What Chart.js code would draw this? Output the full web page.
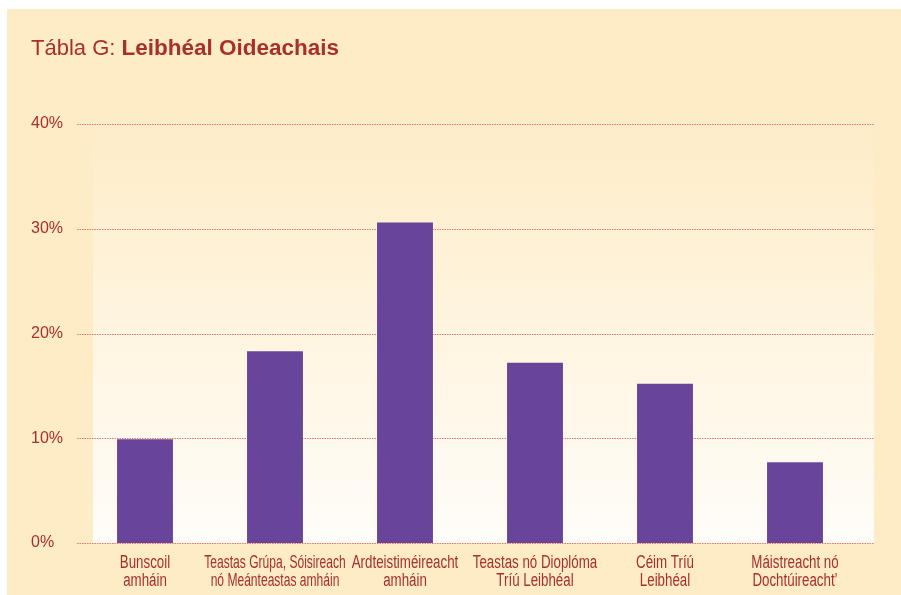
<!DOCTYPE html>
<html>
<head>
<meta charset="utf-8">
<script src="https://cdn.jsdelivr.net/npm/chart.js@4"></script>
<style>
  html, body { margin: 0; padding: 0; background: #fff; }
  canvas { display: block; }
</style>
</head>
<body>
<canvas id="chart" width="901" height="595"></canvas>
<script>
const categories = [
  ['Bunscoil', 'amháin'],
  ['Teastas Grúpa, Sóisireach', 'nó Meánteastas amháin'],
  ['Ardteistiméireacht', 'amháin'],
  ['Teastas nó Dioplóma', 'Tríú Leibhéal'],
  ['Céim Tríú', 'Leibhéal'],
  ['Máistreacht nó', 'Dochtúireacht\u2019']
];
const shares = [9.9, 18.3, 30.6, 17.2, 15.2, 7.7];
const yTicks = [0, 10, 20, 30, 40];

const RED = '#a8302a';
const PURPLE = '#68459b';
const SANS = "'Liberation Sans', Arial, sans-serif";

const backdrop = {
  id: 'backdrop',
  beforeDraw(chart) {
    const { ctx } = chart;
    ctx.save();
    ctx.fillStyle = '#fff';
    ctx.fillRect(0, 0, chart.width, chart.height);
    ctx.fillStyle = '#feecc7';
    ctx.fillRect(7, 9, chart.width - 7, chart.height - 9);
    const g = ctx.createLinearGradient(0, 120, 0, 543);
    g.addColorStop(0, '#feecc7');
    g.addColorStop(1, '#fffdf9');
    ctx.fillStyle = g;
    ctx.fillRect(93, 110, 781, 433);

    // title
    ctx.fillStyle = RED;
    ctx.textBaseline = 'alphabetic';
    ctx.font = '22px ' + SANS;
    const lead = 'Tábla G: ';
    ctx.fillText(lead, 31, 55);
    const w = ctx.measureText(lead).width;
    ctx.font = 'bold 22.5px ' + SANS;
    ctx.fillText('Leibhéal Oideachais', 31 + w, 55);
    ctx.restore();
  },
  beforeDatasetsDraw(chart) {
    const { ctx } = chart;
    const y = chart.scales.y;
    ctx.save();
    ctx.strokeStyle = '#e07a70';
    ctx.lineWidth = 1;
    ctx.setLineDash([1.5, 1]);
    y.ticks.forEach(t => {
      const py = Math.round(y.getPixelForValue(t.value)) + 0.5;
      ctx.beginPath();
      ctx.moveTo(77, py);
      ctx.lineTo(874, py);
      ctx.stroke();
    });
    ctx.restore();
  },
  afterDraw(chart) {
    // condensed category labels
    const { ctx } = chart;
    const x = chart.scales.x;
    ctx.save();
    ctx.fillStyle = RED;
    ctx.font = '18px ' + SANS;
    ctx.textAlign = 'center';
    ctx.textBaseline = 'alphabetic';
    categories.forEach((lines, i) => {
      const cx = x.getPixelForTick(i);
      const sx = i === 1 ? 0.67 : 0.74;
      lines.forEach((txt, k) => {
        ctx.save();
        ctx.translate(cx, 568 + k * 18);
        ctx.scale(sx, 1);
        ctx.fillText(txt, 0, 0);
        ctx.restore();
      });
    });
    ctx.restore();
  }
};

new Chart(document.getElementById('chart'), {
  type: 'bar',
  data: {
    labels: categories,
    datasets: [{
      data: shares,
      backgroundColor: PURPLE,
      borderWidth: 0,
      categoryPercentage: 1,
      barPercentage: 0.43
    }]
  },
  options: {
    responsive: false,
    animation: false,
    layout: { padding: { top: 124, left: 31, right: 41, bottom: 0 } },
    plugins: { legend: { display: false }, tooltip: { enabled: false } },
    scales: {
      x: {
        grid: { display: false },
        border: { display: false },
        afterFit: s => { s.height = 52; },
        ticks: { display: false }
      },
      y: {
        min: 0,
        max: 40,
        grid: { display: false },
        border: { display: false },
        afterFit: s => { s.width = 49; },
        afterBuildTicks: s => { s.ticks = yTicks.map(v => ({ value: v })); },
        ticks: {
          color: RED,
          crossAlign: 'far',
          font: { family: SANS, size: 16 },
          callback: v => v + '%'
        }
      }
    }
  },
  plugins: [backdrop]
});
</script>
</body>
</html>
